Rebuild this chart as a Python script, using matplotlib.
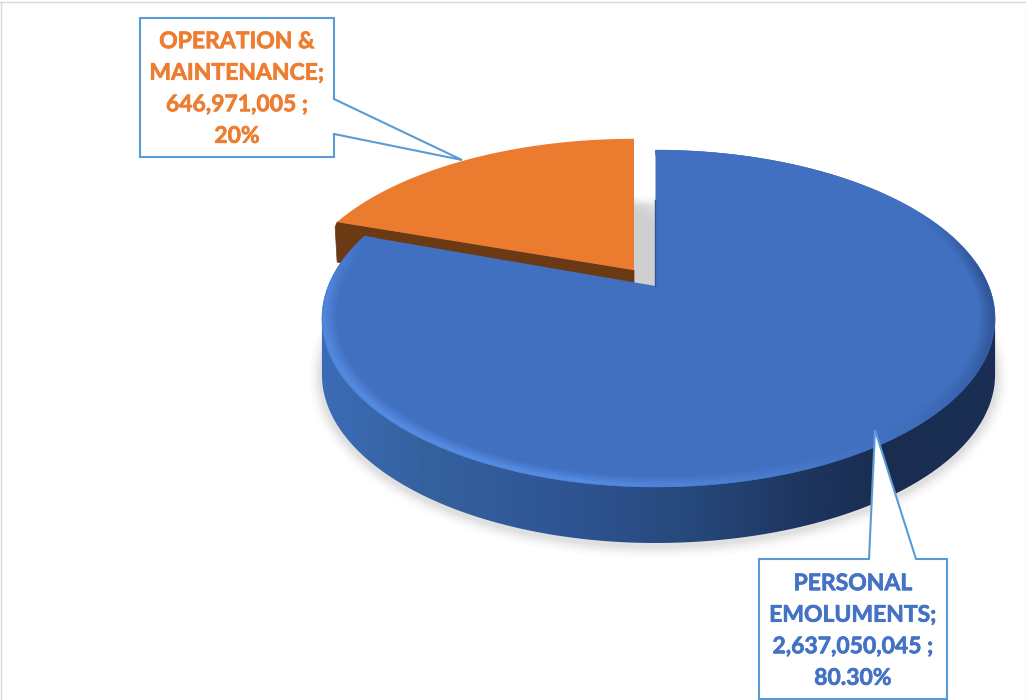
import numpy as np
import matplotlib
matplotlib.use("Agg")
import matplotlib.pyplot as plt
import matplotlib.patheffects as pe
from matplotlib.collections import PolyCollection
from matplotlib.colors import to_rgb, LinearSegmentedColormap
from matplotlib.patches import Polygon

# ---- data ----
categories = ["PERSONAL\nEMOLUMENTS", "OPERATION &\nMAINTENANCE"]
amounts = [2637050045, 646971005]
amount_labels = ["2,637,050,045", "646,971,005"]
pct_labels = ["80.30%", "20%"]

# ---- layout / style ----
W, H = 1026, 700
CX, CY, BL, BR, A, K = 655.5, 286.0, 327.3, 333.2, 162.2, 0.193
ORANGE_CX, ORANGE_B = 634.0, 340.0
DEPTH = 56.0
EXPLODE_V = 0.1
FACE_BLUE, FACE_ORANGE, BROWN = "#4170C0", "#EB7B2F", "#6B3A14"
EDGE = "#5B9BD5"

plt.rcParams["font.family"] = ["Lato", "DejaVu Sans"]
fig = plt.figure(figsize=(W / 100, H / 100), dpi=100)
ax = fig.add_axes([0, 0, 1, 1])
ax.set_xlim(0, W)
ax.set_ylim(H, 0)
ax.axis("off")


def project(u, v):
    d = 1 + K * v
    b = np.where(np.asarray(u) < 0, BL, BR)
    return CX + b * u / d, CY - A * v / d


def project_orange(u, v):
    v = v + EXPLODE_V
    d = 1 + K * v
    return ORANGE_CX + ORANGE_B * u / d, CY - A * v / d


def disk(theta, r=1.0):
    return r * np.sin(theta), r * np.cos(theta)


total = sum(amounts)
blue_sweep = 2 * np.pi * amounts[0] / total
th_blue = np.linspace(0, blue_sweep, 500)
th_orange = np.linspace(blue_sweep, 2 * np.pi, 160)


def blend(c1, c2, f):
    c1, c2 = np.array(to_rgb(c1)), np.array(to_rgb(c2))
    return c1 + (c2 - c1) * f


# shadow below the pie
xb, yb = project(*disk(np.linspace(0, 2 * np.pi, 400)))
for grow, a in zip([13, 10, 7.5, 5, 3], [0.03, 0.04, 0.05, 0.06, 0.07]):
    sx = CX + (xb - CX) * (1 + grow / 340)
    sy = CY + 32 + (yb - CY - 32) * (1 + grow / 170) + DEPTH + 2
    ax.fill(sx, sy, color="#808080", alpha=a, lw=0, zorder=1)

# soft shadow in the gap between the slices
for step in [0, 4, 8]:
    ax.add_patch(Polygon([(634, 197 + step * 1.5), (655, 208 + step * 1.5), (655, 290), (634, 290)],
                         fc="#808080", alpha=0.06, lw=0, zorder=1.5))

# orange slice: cut face then top
ax_x, ax_y = project_orange(0.0, 0.0)
eu, ev = disk(blue_sweep)
ex, ey = project_orange(eu, ev)
ax.add_patch(Polygon([(ax_x, ax_y), (ex, ey), (ex - 2, ey + 5), (ex, ey + 40),
                      (ax_x, ax_y + DEPTH)], fc=BROWN, ec=BROWN, lw=0.5, zorder=2))
xo, yo = project_orange(*disk(th_orange))
ax.fill(np.r_[ax_x, xo], np.r_[ax_y, yo], color=FACE_ORANGE, lw=0, zorder=3)

# blue side wall, shaded along x with a clipped gradient
stops_x = np.array([320, 420, 560, 700, 800, 880, 1000])
stops_c = ["#3C6CB8", "#35629F", "#2F5594", "#264779", "#1E3660", "#1A2D50", "#1B2F55"]
cmap = LinearSegmentedColormap.from_list(
    "wall", list(zip((stops_x - stops_x[0]) / (stops_x[-1] - stops_x[0]), stops_c)))
xt, yt = project(*disk(th_blue))
i_r, i_l = int(np.argmax(xt)), int(np.argmin(xt))
wall = Polygon(np.c_[np.r_[xt[i_r:i_l + 1], xt[i_l], xt[i_r]],
                     np.r_[yt[i_r:i_l + 1] + DEPTH, yt[i_l], yt[i_r]]],
               closed=True, fc="none", ec="none", transform=ax.transData)
ax.add_patch(wall)
grad = np.linspace(0, 1, 512)[None, :]
im = ax.imshow(grad, cmap=cmap, extent=[stops_x[0], stops_x[-1], 600, 150],
               aspect="auto", zorder=4, interpolation="bilinear")
im.set_clip_path(wall)
ax.set_xlim(0, W)
ax.set_ylim(H, 0)

# blue top
ax.fill(np.r_[CX, xt], np.r_[CY, yt], color=FACE_BLUE, lw=0, zorder=5)
ax.plot([CX - 0.5, CX - 0.5], [200, 286], color="#2F5597", lw=1, zorder=5)

# bevelled rim on the blue top
rs = np.linspace(1.0, 0.955, 10)
rim_q, rim_c = [], []
for j in range(len(rs) - 1):
    fr = (j + 0.5) / (len(rs) - 1)
    for i in range(0, len(th_blue) - 1):
        t0, t1 = th_blue[i], th_blue[i + 1]
        x0, y0 = project(*disk(t0, rs[j]))
        x1, y1 = project(*disk(t1, rs[j]))
        x2, y2 = project(*disk(t1, rs[j + 1]))
        x3, y3 = project(*disk(t0, rs[j + 1]))
        deg = np.degrees((t0 + t1) / 2)
        bright = np.interp(deg, [0, 60, 85, 110, 150, 190, 230, 270, 289],
                           [0.0, 0.0, -0.6, -0.5, 0.1, 1.0, 1.0, 0.7, 0.0])
        amount = (1 - fr) ** 0.9
        if j == 0:
            amount *= 0.75
        target = "#5A94EC" if bright >= 0 else "#1E3A6E"
        c = blend(FACE_BLUE, target, min(abs(bright), 1) * amount)
        rim_q.append([(x0, y0), (x1, y1), (x2, y2), (x3, y3)])
        rim_c.append(c)
ax.add_collection(PolyCollection(rim_q, facecolors=rim_c, edgecolors=rim_c, linewidths=0.3, zorder=6))

# chart frame
ax.plot([0, W, W], [2, 2, H], color="#D9D9D9", lw=1, zorder=0)
ax.plot([0.5, 0.5], [2, H], color="#D9D9D9", lw=1, zorder=0)


# callouts
def callout(points, zo=7):
    ax.add_patch(Polygon(points, closed=True, fc="white", ec=EDGE, lw=1.5, zorder=zo))


callout([(140, 18), (334, 18), (334, 99), (462, 160), (334, 134), (334, 157), (140, 157)])
callout([(759, 559), (869, 559), (875, 430), (916, 559), (947, 559), (947, 699), (759, 699)])


def label(i):
    return f"{categories[i]};\n{amount_labels[i]} ;\n{pct_labels[i]}"


for i, xpos, ypos, col in [(1, 237, 89, "#ED7D31"), (0, 853, 631, "#4472C4")]:
    t = ax.text(xpos, ypos, label(i), color=col, fontsize=16.5, fontweight="bold",
                ha="center", va="center", linespacing=1.62, zorder=8)
    t.set_path_effects([pe.withStroke(linewidth=0.5, foreground=col)])

fig.savefig("out.png", dpi=100)
